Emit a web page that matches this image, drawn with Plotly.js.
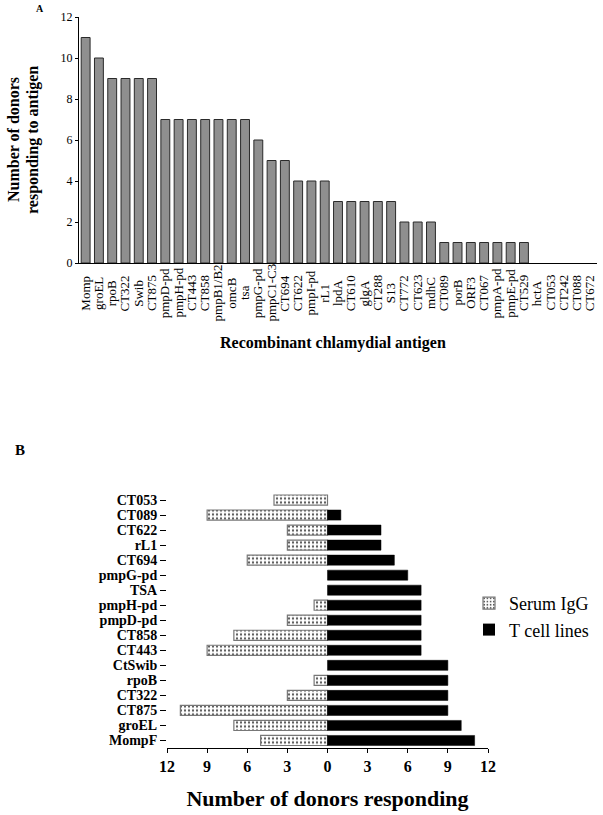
<!DOCTYPE html>
<html>
<head>
<meta charset="utf-8">
<script src="https://cdn.plot.ly/plotly-3.0.1.min.js"></script>
<style>html,body{margin:0;padding:0;background:#fff;}#chart{width:603px;height:815px;}</style>
</head>
<body>
<div id="chart"></div>
<script>
// Panel A data
const antigensA = ["Momp","groEL","rpoB","CT322","Swib","CT875","pmpD-pd","pmpH-pd","CT443","CT858","pmpB1/B2","omcB","tsa","pmpG-pd","pmpC1-C3","CT694","CT622","pmpI-pd","rL1","lpdA","CT610","glgA","CT288","S13","CT772","CT623","mdhC","CT089","porB","ORF3","CT067","pmpA-pd","pmpE-pd","CT529","hctA","CT053","CT242","CT088","CT672"];
const donorsA = [11,10,9,9,9,9,7,7,7,7,7,7,7,6,5,5,4,4,4,3,3,3,3,3,2,2,2,1,1,1,1,1,1,1,0,0,0,0,0];
const yTicksA = [0,2,4,6,8,10,12];

// Panel B data (top to bottom)
const antigensB = ["CT053","CT089","CT622","rL1","CT694","pmpG-pd","TSA","pmpH-pd","pmpD-pd","CT858","CT443","CtSwib","rpoB","CT322","CT875","groEL","MompF"];
const serumIgG = [4,9,3,3,6,0,0,1,3,7,9,0,1,3,11,7,5];
const tCellLines = [0,1,4,4,5,6,7,7,7,7,7,9,9,9,9,10,11];
const xTicksB = [-12,-9,-6,-3,0,3,6,9,12];

const serif = "Liberation Serif, Times New Roman, serif";
const H = 815, W = 603;
const py = v => 1 - v / H;
const px = v => v / W;

const traces = [
  {
    type: "bar", x: antigensA, y: donorsA, xaxis: "x", yaxis: "y",
    marker: {color: "#8f8f8f", line: {color: "#2a2a2a", width: donorsA.map(v => v > 0 ? 1 : 0)}},
    showlegend: false, hoverinfo: "x+y"
  },
  {
    type: "bar", orientation: "h", name: "Serum IgG",
    y: antigensB, x: serumIgG.map(v => -v), xaxis: "x2", yaxis: "y2",
    marker: {color: "#ffffff", line: {color: "#777777", width: serumIgG.map(v => v > 0 ? 1.2 : 0)},
      pattern: {shape: ".", fgcolor: "#555555", bgcolor: "#ffffff", size: 4, solidity: 0.25}},
    hoverinfo: "y"
  },
  {
    type: "bar", orientation: "h", name: "T cell lines",
    y: antigensB, x: tCellLines, xaxis: "x2", yaxis: "y2",
    marker: {color: "#000000", line: {color: "#000000", width: tCellLines.map(v => v > 0 ? 0.5 : 0)}},
    hoverinfo: "x+y"
  }
];

const annotations = [
  {text: "<b>A</b>", xref: "paper", yref: "paper", x: px(40), y: py(8), xanchor: "center", yanchor: "middle",
   showarrow: false, font: {family: serif, size: 10, color: "#000"}},
  {text: "<b>B</b>", xref: "paper", yref: "paper", x: px(20), y: py(450), xanchor: "center", yanchor: "middle",
   showarrow: false, font: {family: serif, size: 15, color: "#000"}},
  {text: "<b>Number of donors</b>", xref: "paper", yref: "paper", x: px(13), y: py(140), textangle: -90,
   xanchor: "center", yanchor: "middle", showarrow: false, font: {family: serif, size: 16, color: "#000"}},
  {text: "<b>responding to antigen</b>", xref: "paper", yref: "paper", x: px(33), y: py(140), textangle: -90,
   xanchor: "center", yanchor: "middle", showarrow: false, font: {family: serif, size: 16, color: "#000"}},
  {text: "<b>Recombinant chlamydial antigen</b>", xref: "paper", yref: "paper", x: px(333), y: py(343),
   xanchor: "center", yanchor: "middle", showarrow: false, font: {family: serif, size: 16, color: "#000"}}
];
antigensA.forEach(name => {
  annotations.push({text: name, xref: "x", yref: "paper", x: name, y: py(293), textangle: -90,
    xanchor: "center", yanchor: "middle", showarrow: false, font: {family: serif, size: 13, color: "#000"}});
});

const layout = {
  width: W, height: H,
  margin: {l: 0, r: 0, t: 0, b: 0},
  paper_bgcolor: "#fff", plot_bgcolor: "#fff",
  barmode: "relative",
  font: {family: serif, color: "#000"},
  xaxis: {
    domain: [px(79), px(597)], anchor: "y", type: "category",
    range: [-0.5, 38.5], showticklabels: false, ticks: "",
    showline: true, linecolor: "#000", linewidth: 1, showgrid: false, zeroline: false
  },
  yaxis: {
    domain: [py(263), py(17)], anchor: "x", range: [0, 12],
    tickvals: yTicksA, ticks: "outside", ticklen: 3, tickcolor: "#000",
    tickfont: {family: serif, size: 12}, showline: true, linecolor: "#000", linewidth: 1,
    showgrid: false, zeroline: false
  },
  xaxis2: {
    domain: [px(167), px(488)], anchor: "y2", range: [-12, 12],
    tickvals: xTicksB, ticktext: xTicksB.map(v => String(Math.abs(v))),
    ticks: "outside", ticklen: 4, tickcolor: "#000",
    tickfont: {family: serif, size: 16, weight: "bold"},
    showline: true, linecolor: "#000", linewidth: 1, showgrid: false, zeroline: false,
    title: {text: "<b>Number of donors responding</b>", font: {family: serif, size: 22}, standoff: 16}
  },
  yaxis2: {
    domain: [py(748), py(492.5)], anchor: "x2", type: "category", autorange: "reversed",
    tickmode: "array", tickvals: antigensB, ticktext: antigensB,
    ticks: "outside", ticklen: 6, tickcolor: "#000",
    tickfont: {family: serif, size: 14, weight: "bold"},
    showline: false, showgrid: false, zeroline: false
  },
  bargap: 0.33,
  legend: {
    x: px(469), y: py(585), xanchor: "left", yanchor: "top",
    font: {family: serif, size: 18}, bgcolor: "rgba(0,0,0,0)", borderwidth: 0,
    tracegroupgap: 0, itemwidth: 30
  },
  annotations: annotations
};

Plotly.newPlot("chart", traces, layout, {displayModeBar: false, staticPlot: true});
</script>
</body>
</html>
